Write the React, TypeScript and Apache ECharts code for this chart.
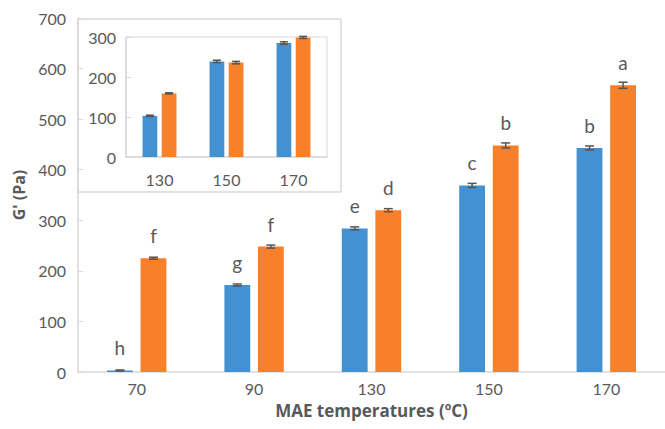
import React, { useEffect, useRef } from "react";
import * as echarts from "echarts";

const categories = ["70", "90", "130", "150", "170"];
const blueValues = [3, 172, 284, 369, 443];
const orangeValues = [225, 248, 320, 448, 567];
const blueErr = [1, 2, 3, 4, 4];
const orangeErr = [2, 3, 3, 5, 6];
const blueLetters = ["h", "g", "e", "c", "b"];
const orangeLetters = ["f", "f", "d", "b", "a"];

const insetCategories = ["130", "150", "170"];
const insetBlue = [103, 239, 285];
const insetOrange = [159, 236, 299];
const insetBlueErr = [1.5, 3, 3];
const insetOrangeErr = [1.5, 3, 2.5];

const BLUE = "#4391d1";
const ORANGE = "#f7802a";
const TEXT = "#595959";
const AXIS = "#d9d9d9";
const FONT = "Lato, 'Open Sans', sans-serif";

const BAR_RATIO = 0.22;
const GAP_RATIO = 0.3;

function errorSeries(values: number[], errs: number[], side: number, axisIdx: number, cap: number) {
  return {
    type: "custom",
    xAxisIndex: axisIdx,
    yAxisIndex: axisIdx,
    z: 5,
    silent: true,
    data: values.map((v, i) => [i, v - errs[i], v + errs[i]]),
    renderItem: (params: any, api: any) => {
      const idx = api.value(0);
      const lo = api.coord([idx, api.value(1)]);
      const hi = api.coord([idx, api.value(2)]);
      const catW = api.size([1, 0])[0];
      const barW = catW * BAR_RATIO;
      const off = ((barW + barW * GAP_RATIO) / 2) * side;
      const x = lo[0] + off;
      const style = { stroke: "#555555", lineWidth: 1.5 };
      return {
        type: "group",
        children: [
          { type: "line", shape: { x1: x, y1: lo[1], x2: x, y2: hi[1] }, style },
          { type: "line", shape: { x1: x - cap, y1: lo[1], x2: x + cap, y2: lo[1] }, style },
          { type: "line", shape: { x1: x - cap, y1: hi[1], x2: x + cap, y2: hi[1] }, style },
        ],
      };
    },
  };
}

export default function App() {
  const ref = useRef<HTMLDivElement>(null);
  useEffect(() => {
    document.body.style.margin = "0";
    if (!ref.current) return;
    const chart = echarts.init(ref.current, null, { renderer: "svg" });
    const labelFor = (letters: string[]) => ({
      show: true,
      position: "top",
      distance: 13,
      fontSize: 19,
      color: TEXT,
      fontFamily: FONT,
      formatter: (p: any) => letters[p.dataIndex],
    });
    chart.setOption({
      animation: false,
      textStyle: { fontFamily: FONT },
      grid: [
        { left: 78, top: 18, right: -2, bottom: 57, containLabel: false },
        { left: 126, top: 37, right: 338, bottom: 272, show: true, borderColor: AXIS, borderWidth: 1 },
      ],
      xAxis: [
        {
          type: "category",
          gridIndex: 0,
          data: categories,
          axisLine: { lineStyle: { color: AXIS, width: 1.5 } },
          axisTick: { show: false },
          axisLabel: { color: TEXT, fontSize: 16, margin: 8, fontFamily: FONT },
          name: "MAE temperatures (ºC)",
          nameLocation: "middle",
          nameGap: 30,
          nameTextStyle: { color: TEXT, fontSize: 17, fontWeight: "bold", fontFamily: "'Open Sans', sans-serif" },
        },
        {
          type: "category",
          gridIndex: 1,
          data: insetCategories,
          axisLine: { lineStyle: { color: AXIS, width: 1.5 } },
          axisTick: { show: false },
          axisLabel: { color: TEXT, fontSize: 16, margin: 14, fontFamily: FONT },
        },
      ],
      yAxis: [
        {
          type: "value",
          gridIndex: 0,
          min: 0,
          max: 700,
          interval: 100,
          axisLine: { show: true, lineStyle: { color: AXIS, width: 1.5 } },
          axisTick: { show: true, inside: true, length: 5, lineStyle: { color: AXIS } },
          splitLine: { show: false },
          axisLabel: { color: TEXT, fontSize: 16, margin: 12, fontFamily: FONT },
          name: "G' (Pa)",
          nameLocation: "middle",
          nameGap: 50,
          nameTextStyle: { color: TEXT, fontSize: 16, fontWeight: "bold", fontFamily: "'Open Sans', sans-serif" },
        },
        {
          type: "value",
          gridIndex: 1,
          min: 0,
          max: 300,
          interval: 100,
          axisLine: { show: true, lineStyle: { color: AXIS, width: 1.5 } },
          axisTick: { show: true, inside: true, length: 5, lineStyle: { color: AXIS } },
          splitLine: { show: false },
          axisLabel: { color: TEXT, fontSize: 16, margin: 10, fontFamily: FONT },
        },
      ],
      graphic: [
        {
          type: "rect",
          shape: { x: 78, y: 19, width: 263, height: 173 },
          style: { fill: "none", stroke: AXIS, lineWidth: 1.5 },
          z: 0,
        },
      ],
      series: [
        {
          type: "bar",
          xAxisIndex: 0,
          yAxisIndex: 0,
          data: blueValues,
          barWidth: BAR_RATIO * 100 + "%",
          barGap: GAP_RATIO * 100 + "%",
          itemStyle: { color: BLUE },
          label: labelFor(blueLetters),
        },
        {
          type: "bar",
          xAxisIndex: 0,
          yAxisIndex: 0,
          data: orangeValues,
          barWidth: BAR_RATIO * 100 + "%",
          barGap: GAP_RATIO * 100 + "%",
          itemStyle: { color: ORANGE },
          label: labelFor(orangeLetters),
        },
        {
          type: "bar",
          xAxisIndex: 1,
          yAxisIndex: 1,
          data: insetBlue,
          barWidth: BAR_RATIO * 100 + "%",
          barGap: GAP_RATIO * 100 + "%",
          itemStyle: { color: BLUE },
        },
        {
          type: "bar",
          xAxisIndex: 1,
          yAxisIndex: 1,
          data: insetOrange,
          barWidth: BAR_RATIO * 100 + "%",
          barGap: GAP_RATIO * 100 + "%",
          itemStyle: { color: ORANGE },
        },
        errorSeries(blueValues, blueErr, -1, 0, 4.5),
        errorSeries(orangeValues, orangeErr, 1, 0, 4.5),
        errorSeries(insetBlue, insetBlueErr, -1, 1, 4),
        errorSeries(insetOrange, insetOrangeErr, 1, 1, 4),
      ],
    });
    return () => chart.dispose();
  }, []);
  return <div ref={ref} style={{ width: 665, height: 429 }} />;
}
